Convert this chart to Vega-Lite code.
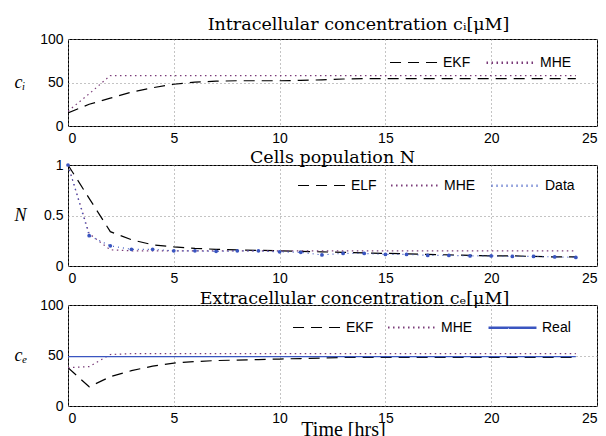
{
  "$schema": "https://vega.github.io/schema/vega-lite/v6.json",
  "padding": {"left": 13, "top": 15, "right": 5, "bottom": 0},
  "background": "white",
  "spacing": 39,
  "bounds": "flush",
  "datasets": {
    "ci": [
      {"t": 0, "s": "EKF", "v": 15}, {"t": 1, "s": "EKF", "v": 25}, {"t": 2, "s": "EKF", "v": 32}, {"t": 3, "s": "EKF", "v": 39}, {"t": 4, "s": "EKF", "v": 44}, {"t": 5, "s": "EKF", "v": 48}, {"t": 6, "s": "EKF", "v": 50.5}, {"t": 7, "s": "EKF", "v": 51.5}, {"t": 8, "s": "EKF", "v": 52}, {"t": 9, "s": "EKF", "v": 52}, {"t": 10, "s": "EKF", "v": 52}, {"t": 11, "s": "EKF", "v": 52.5}, {"t": 12, "s": "EKF", "v": 53}, {"t": 13, "s": "EKF", "v": 54}, {"t": 14, "s": "EKF", "v": 54.5}, {"t": 15, "s": "EKF", "v": 54.5}, {"t": 16, "s": "EKF", "v": 54.5}, {"t": 17, "s": "EKF", "v": 54.5}, {"t": 18, "s": "EKF", "v": 54.5}, {"t": 19, "s": "EKF", "v": 54.5}, {"t": 20, "s": "EKF", "v": 54.5}, {"t": 21, "s": "EKF", "v": 54.5}, {"t": 22, "s": "EKF", "v": 54.5}, {"t": 23, "s": "EKF", "v": 54.5}, {"t": 24, "s": "EKF", "v": 54.5},
      {"t": 0, "s": "MHE", "v": 17}, {"t": 1, "s": "MHE", "v": 37}, {"t": 2, "s": "MHE", "v": 58}, {"t": 3, "s": "MHE", "v": 58}, {"t": 4, "s": "MHE", "v": 58}, {"t": 5, "s": "MHE", "v": 58}, {"t": 6, "s": "MHE", "v": 58}, {"t": 7, "s": "MHE", "v": 58}, {"t": 8, "s": "MHE", "v": 58}, {"t": 9, "s": "MHE", "v": 58}, {"t": 10, "s": "MHE", "v": 58}, {"t": 11, "s": "MHE", "v": 58}, {"t": 12, "s": "MHE", "v": 58}, {"t": 13, "s": "MHE", "v": 58}, {"t": 14, "s": "MHE", "v": 58}, {"t": 15, "s": "MHE", "v": 58}, {"t": 16, "s": "MHE", "v": 58}, {"t": 17, "s": "MHE", "v": 58}, {"t": 18, "s": "MHE", "v": 58}, {"t": 19, "s": "MHE", "v": 58}, {"t": 20, "s": "MHE", "v": 58}, {"t": 21, "s": "MHE", "v": 58}, {"t": 22, "s": "MHE", "v": 58}, {"t": 23, "s": "MHE", "v": 58}, {"t": 24, "s": "MHE", "v": 58}
    ],
    "n": [
      {"t": 0, "s": "ELF", "v": 1.0}, {"t": 1, "s": "ELF", "v": 0.67}, {"t": 2, "s": "ELF", "v": 0.34}, {"t": 3, "s": "ELF", "v": 0.26}, {"t": 4, "s": "ELF", "v": 0.21}, {"t": 5, "s": "ELF", "v": 0.19}, {"t": 6, "s": "ELF", "v": 0.175}, {"t": 7, "s": "ELF", "v": 0.165}, {"t": 8, "s": "ELF", "v": 0.16}, {"t": 9, "s": "ELF", "v": 0.155}, {"t": 10, "s": "ELF", "v": 0.15}, {"t": 11, "s": "ELF", "v": 0.145}, {"t": 12, "s": "ELF", "v": 0.14}, {"t": 13, "s": "ELF", "v": 0.135}, {"t": 14, "s": "ELF", "v": 0.13}, {"t": 15, "s": "ELF", "v": 0.125}, {"t": 16, "s": "ELF", "v": 0.12}, {"t": 17, "s": "ELF", "v": 0.115}, {"t": 18, "s": "ELF", "v": 0.11}, {"t": 19, "s": "ELF", "v": 0.105}, {"t": 20, "s": "ELF", "v": 0.1}, {"t": 21, "s": "ELF", "v": 0.1}, {"t": 22, "s": "ELF", "v": 0.095}, {"t": 23, "s": "ELF", "v": 0.09}, {"t": 24, "s": "ELF", "v": 0.09},
      {"t": 0, "s": "MHE", "v": 1.0}, {"t": 1, "s": "MHE", "v": 0.32}, {"t": 2, "s": "MHE", "v": 0.16}, {"t": 3, "s": "MHE", "v": 0.15}, {"t": 4, "s": "MHE", "v": 0.15}, {"t": 5, "s": "MHE", "v": 0.15}, {"t": 6, "s": "MHE", "v": 0.15}, {"t": 7, "s": "MHE", "v": 0.15}, {"t": 8, "s": "MHE", "v": 0.15}, {"t": 9, "s": "MHE", "v": 0.15}, {"t": 10, "s": "MHE", "v": 0.15}, {"t": 11, "s": "MHE", "v": 0.15}, {"t": 12, "s": "MHE", "v": 0.15}, {"t": 13, "s": "MHE", "v": 0.15}, {"t": 14, "s": "MHE", "v": 0.15}, {"t": 15, "s": "MHE", "v": 0.15}, {"t": 16, "s": "MHE", "v": 0.15}, {"t": 17, "s": "MHE", "v": 0.15}, {"t": 18, "s": "MHE", "v": 0.15}, {"t": 19, "s": "MHE", "v": 0.15}, {"t": 20, "s": "MHE", "v": 0.15}, {"t": 21, "s": "MHE", "v": 0.15}, {"t": 22, "s": "MHE", "v": 0.15}, {"t": 23, "s": "MHE", "v": 0.15}, {"t": 24, "s": "MHE", "v": 0.15},
      {"t": 0, "s": "Data", "v": 1.0}, {"t": 1, "s": "Data", "v": 0.3}, {"t": 2, "s": "Data", "v": 0.2}, {"t": 3, "s": "Data", "v": 0.165}, {"t": 4, "s": "Data", "v": 0.165}, {"t": 5, "s": "Data", "v": 0.15}, {"t": 6, "s": "Data", "v": 0.15}, {"t": 7, "s": "Data", "v": 0.145}, {"t": 8, "s": "Data", "v": 0.15}, {"t": 9, "s": "Data", "v": 0.15}, {"t": 10, "s": "Data", "v": 0.14}, {"t": 11, "s": "Data", "v": 0.135}, {"t": 12, "s": "Data", "v": 0.11}, {"t": 13, "s": "Data", "v": 0.125}, {"t": 14, "s": "Data", "v": 0.125}, {"t": 15, "s": "Data", "v": 0.115}, {"t": 16, "s": "Data", "v": 0.115}, {"t": 17, "s": "Data", "v": 0.105}, {"t": 18, "s": "Data", "v": 0.105}, {"t": 19, "s": "Data", "v": 0.1}, {"t": 20, "s": "Data", "v": 0.1}, {"t": 21, "s": "Data", "v": 0.095}, {"t": 22, "s": "Data", "v": 0.095}, {"t": 23, "s": "Data", "v": 0.09}, {"t": 24, "s": "Data", "v": 0.085}
    ],
    "ce": [
      {"t": 0, "s": "EKF", "v": 38}, {"t": 1, "s": "EKF", "v": 19}, {"t": 2, "s": "EKF", "v": 29}, {"t": 3, "s": "EKF", "v": 35}, {"t": 4, "s": "EKF", "v": 39.5}, {"t": 5, "s": "EKF", "v": 42.5}, {"t": 6, "s": "EKF", "v": 44}, {"t": 7, "s": "EKF", "v": 45}, {"t": 8, "s": "EKF", "v": 45.5}, {"t": 9, "s": "EKF", "v": 46}, {"t": 10, "s": "EKF", "v": 46.5}, {"t": 11, "s": "EKF", "v": 47}, {"t": 12, "s": "EKF", "v": 47.5}, {"t": 13, "s": "EKF", "v": 48}, {"t": 14, "s": "EKF", "v": 48}, {"t": 15, "s": "EKF", "v": 48}, {"t": 16, "s": "EKF", "v": 48}, {"t": 17, "s": "EKF", "v": 48}, {"t": 18, "s": "EKF", "v": 48}, {"t": 19, "s": "EKF", "v": 48}, {"t": 20, "s": "EKF", "v": 48}, {"t": 21, "s": "EKF", "v": 48}, {"t": 22, "s": "EKF", "v": 48}, {"t": 23, "s": "EKF", "v": 48}, {"t": 24, "s": "EKF", "v": 48},
      {"t": 0, "s": "MHE", "v": 38}, {"t": 1, "s": "MHE", "v": 39}, {"t": 2, "s": "MHE", "v": 51}, {"t": 3, "s": "MHE", "v": 51.8}, {"t": 4, "s": "MHE", "v": 51.8}, {"t": 5, "s": "MHE", "v": 51.8}, {"t": 6, "s": "MHE", "v": 51.8}, {"t": 7, "s": "MHE", "v": 51.8}, {"t": 8, "s": "MHE", "v": 51.8}, {"t": 9, "s": "MHE", "v": 51.8}, {"t": 10, "s": "MHE", "v": 51.8}, {"t": 11, "s": "MHE", "v": 51.8}, {"t": 12, "s": "MHE", "v": 51.8}, {"t": 13, "s": "MHE", "v": 51.8}, {"t": 14, "s": "MHE", "v": 51.8}, {"t": 15, "s": "MHE", "v": 51.8}, {"t": 16, "s": "MHE", "v": 51.8}, {"t": 17, "s": "MHE", "v": 51.8}, {"t": 18, "s": "MHE", "v": 51.8}, {"t": 19, "s": "MHE", "v": 51.8}, {"t": 20, "s": "MHE", "v": 51.8}, {"t": 21, "s": "MHE", "v": 51.8}, {"t": 22, "s": "MHE", "v": 51.8}, {"t": 23, "s": "MHE", "v": 51.8}, {"t": 24, "s": "MHE", "v": 51.8},
      {"t": 0, "s": "Real", "v": 48.8}, {"t": 24, "s": "Real", "v": 48.8}
    ]
  },
  "config": {
    "view": {"stroke": "black", "strokeWidth": 1},
    "axis": {
      "domain": false,
      "ticks": false,
      "grid": true,
      "gridDash": [1, 3],
      "gridColor": "#888",
      "gridWidth": 1,
      "labelFont": "Liberation Sans",
      "labelFontSize": 14,
      "labelColor": "black",
      "labelPadding": 5,
      "titleFont": "Liberation Serif",
      "titleFontWeight": "normal",
      "titleColor": "black"
    },
    "title": {"font": "DejaVu Serif", "fontSize": 17.5, "fontWeight": "normal", "color": "black", "anchor": "middle", "baseline": "bottom"},
    "legend": {
      "orient": "none",
      "direction": "horizontal",
      "symbolType": "stroke",
      "symbolSize": 2300,
      "symbolStrokeWidth": 1.3,
      "labelFont": "Liberation Sans",
      "labelFontSize": 14,
      "labelColor": "black",
      "labelOffset": 4,
      "columnPadding": 10,
      "title": null
    },
    "line": {"strokeWidth": 1.2}
  },
  "resolve": {"scale": {"color": "independent", "strokeDash": "independent", "strokeWidth": "independent"}, "legend": {"color": "independent", "strokeDash": "independent"}},
  "vconcat": [
    {
      "width": 529, "height": 87,
      "title": {"text": "Intracellular concentration cᵢ[μM]", "offset": -1, "dx": 26},
      "data": {"name": "ci"},
      "mark": {"type": "line", "clip": true},
      "encoding": {
        "x": {"field": "t", "type": "quantitative", "scale": {"domain": [0, 25], "nice": false}, "axis": {"values": [0, 5, 10, 15, 20, 25], "title": null}},
        "y": {"field": "v", "type": "quantitative", "scale": {"domain": [0, 100], "nice": false}, "axis": {"values": [0, 50, 100], "title": "cᵢ", "titleAngle": 0, "titleAlign": "left", "titleBaseline": "middle", "titleX": -54, "titleY": 43, "titleFontSize": 18, "titleFontStyle": "italic"}},
        "color": {"field": "s", "type": "nominal", "sort": ["EKF", "MHE"], "scale": {"domain": ["EKF", "MHE"], "range": ["#000000", "#7a3a78"]}, "legend": {"title": null, "legendX": 321, "legendY": -2}},
        "strokeDash": {"field": "s", "type": "nominal", "sort": ["EKF", "MHE"], "scale": {"domain": ["EKF", "MHE"], "range": [[11, 7], [1.5, 3.5]]}, "legend": {"title": null, "legendX": 321, "legendY": -2}},
        "strokeWidth": {"field": "s", "type": "nominal", "scale": {"domain": ["EKF", "MHE"], "range": [1.2, 2.4]}, "legend": null}
      }
    },
    {
      "width": 529, "height": 101,
      "title": {"text": "Cells population N", "offset": -8},
      "data": {"name": "n"},
      "layer": [
        {
          "mark": {"type": "line", "clip": true},
          "encoding": {
            "x": {"field": "t", "type": "quantitative", "scale": {"domain": [0, 25], "nice": false}, "axis": {"values": [0, 5, 10, 15, 20, 25], "title": null}},
            "y": {"field": "v", "type": "quantitative", "scale": {"domain": [0, 1], "nice": false}, "axis": {"values": [0, 0.5, 1], "format": "~g", "title": "N", "titleAngle": 0, "titleAlign": "left", "titleBaseline": "middle", "titleX": -54, "titleY": 50, "titleFontSize": 18, "titleFontStyle": "italic"}},
            "color": {"field": "s", "type": "nominal", "sort": ["ELF", "MHE", "Data"], "scale": {"domain": ["ELF", "MHE", "Data"], "range": ["#000000", "#7a3a78", "#3a55c0"]}, "legend": {"title": null, "legendX": 229, "legendY": -5}},
            "strokeDash": {"field": "s", "type": "nominal", "sort": ["ELF", "MHE", "Data"], "scale": {"domain": ["ELF", "MHE", "Data"], "range": [[11, 7], [1.5, 3.5], [1, 4]]}, "legend": {"title": null, "legendX": 229, "legendY": -5}},
            "strokeWidth": {"field": "s", "type": "nominal", "scale": {"domain": ["ELF", "MHE", "Data"], "range": [1.2, 2.4, 1]}, "legend": null}
          }
        },
        {
          "transform": [{"filter": "datum.s === 'Data'"}],
          "mark": {"type": "point", "filled": true, "size": 14, "color": "#3a55c0", "opacity": 1},
          "encoding": {
            "x": {"field": "t", "type": "quantitative"},
            "y": {"field": "v", "type": "quantitative"}
          }
        }
      ]
    },
    {
      "width": 529, "height": 101,
      "title": {"text": "Extracellular concentration cₑ[μM]", "offset": -9, "dx": 22},
      "data": {"name": "ce"},
      "mark": {"type": "line", "clip": true},
      "encoding": {
        "x": {"field": "t", "type": "quantitative", "scale": {"domain": [0, 25], "nice": false}, "axis": {"values": [0, 5, 10, 15, 20, 25], "title": "Time [hrs]", "titleFontSize": 20, "titlePadding": -6, "titleX": 275}},
        "y": {"field": "v", "type": "quantitative", "scale": {"domain": [0, 100], "nice": false}, "axis": {"values": [0, 50, 100], "title": "cₑ", "titleAngle": 0, "titleAlign": "left", "titleBaseline": "middle", "titleX": -54, "titleY": 50, "titleFontSize": 18, "titleFontStyle": "italic"}},
        "color": {"field": "s", "type": "nominal", "sort": ["EKF", "MHE", "Real"], "scale": {"domain": ["EKF", "MHE", "Real"], "range": ["#000000", "#7a3a78", "#3a55c0"]}, "legend": {"title": null, "legendX": 224, "legendY": -3}},
        "strokeDash": {"field": "s", "type": "nominal", "sort": ["EKF", "MHE", "Real"], "scale": {"domain": ["EKF", "MHE", "Real"], "range": [[11, 7], [1.5, 3.5], [1, 0]]}, "legend": {"title": null, "legendX": 224, "legendY": -3}},
        "strokeWidth": {"field": "s", "type": "nominal", "scale": {"domain": ["EKF", "MHE", "Real"], "range": [1.2, 2.4, 1]}, "legend": null}
      }
    }
  ]
}
